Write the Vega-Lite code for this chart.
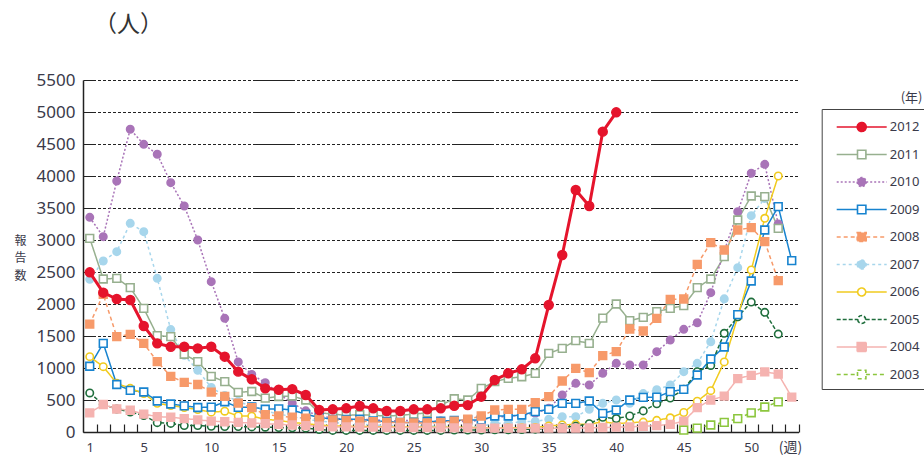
{
  "$schema": "https://vega.github.io/schema/vega-lite/v6.json",
  "width": 715.5,
  "height": 352,
  "autosize": {"type": "none"},
  "padding": {"left": 83, "top": 80, "right": 125.5, "bottom": 23},
  "background": "white",
  "title": {"text": "（人）", "anchor": "start", "frame": "group", "orient": "top", "fontSize": 23, "font": "Noto Sans CJK JP", "fontWeight": "normal", "color": "#333333", "dx": 11, "offset": 34},
  "data": {"values": [
    {"w":1,"2012":2495,"2011":3026,"2010":3354,"2009":1028,"2008":1685,"2007":2385,"2006":1177,"2005":610,"2004":300},
    {"w":2,"2012":2177,"2011":2391,"2010":3052,"2009":1385,"2008":2150,"2007":2672,"2006":1021,"2005":430,"2004":430},
    {"w":3,"2012":2078,"2011":2401,"2010":3922,"2009":742,"2008":1490,"2007":2818,"2006":760,"2005":360,"2004":360},
    {"w":4,"2012":2062,"2011":2255,"2010":4730,"2009":650,"2008":1525,"2007":3260,"2006":682,"2005":312,"2004":340},
    {"w":5,"2012":1656,"2011":1932,"2010":4495,"2009":625,"2008":1385,"2007":3130,"2006":600,"2005":258,"2004":280},
    {"w":6,"2012":1385,"2011":1505,"2010":4339,"2009":484,"2008":1099,"2007":2401,"2006":448,"2005":146,"2004":240},
    {"w":7,"2012":1333,"2011":1490,"2010":3896,"2009":438,"2008":870,"2007":1600,"2006":414,"2005":134,"2004":230},
    {"w":8,"2012":1333,"2011":1215,"2010":3531,"2009":408,"2008":775,"2007":1200,"2006":383,"2005":100,"2004":210},
    {"w":9,"2012":1307,"2011":1099,"2010":3000,"2009":383,"2008":742,"2007":965,"2006":350,"2005":100,"2004":190},
    {"w":10,"2012":1333,"2011":870,"2010":2349,"2009":388,"2008":622,"2007":695,"2006":310,"2005":90,"2004":170},
    {"w":11,"2012":1177,"2011":786,"2010":1776,"2009":472,"2008":557,"2007":570,"2006":325,"2005":85,"2004":160},
    {"w":12,"2012":943,"2011":620,"2010":1095,"2009":385,"2008":450,"2007":480,"2006":250,"2005":85,"2004":150},
    {"w":13,"2012":823,"2011":633,"2010":900,"2009":390,"2008":380,"2007":400,"2006":248,"2005":80,"2004":140},
    {"w":14,"2012":682,"2011":530,"2010":770,"2009":356,"2008":270,"2007":330,"2006":198,"2005":75,"2004":130},
    {"w":15,"2012":660,"2011":555,"2010":600,"2009":362,"2008":250,"2007":280,"2006":180,"2005":70,"2004":120},
    {"w":16,"2012":670,"2011":562,"2010":450,"2009":344,"2008":230,"2007":240,"2006":150,"2005":65,"2004":110},
    {"w":17,"2012":578,"2011":500,"2010":330,"2009":276,"2008":215,"2007":200,"2006":130,"2005":60,"2004":100},
    {"w":18,"2012":344,"2011":300,"2010":250,"2009":230,"2008":200,"2007":170,"2006":110,"2005":40,"2004":90},
    {"w":19,"2012":354,"2011":280,"2010":220,"2009":198,"2008":190,"2007":150,"2006":95,"2005":25,"2004":80},
    {"w":20,"2012":370,"2011":260,"2010":200,"2009":198,"2008":180,"2007":130,"2006":90,"2005":25,"2004":80},
    {"w":21,"2012":406,"2011":270,"2010":190,"2009":200,"2008":170,"2007":120,"2006":85,"2005":25,"2004":75},
    {"w":22,"2012":370,"2011":260,"2010":200,"2009":172,"2008":160,"2007":110,"2006":85,"2005":25,"2004":75},
    {"w":23,"2012":328,"2011":250,"2010":170,"2009":166,"2008":150,"2007":100,"2006":80,"2005":25,"2004":70},
    {"w":24,"2012":328,"2011":260,"2010":180,"2009":150,"2008":150,"2007":100,"2006":80,"2005":25,"2004":70},
    {"w":25,"2012":354,"2011":280,"2010":180,"2009":150,"2008":140,"2007":95,"2006":80,"2005":25,"2004":70},
    {"w":26,"2012":354,"2011":300,"2010":160,"2009":160,"2008":140,"2007":90,"2006":75,"2005":25,"2004":70},
    {"w":27,"2012":370,"2011":420,"2010":170,"2009":170,"2008":150,"2007":90,"2006":75,"2005":25,"2004":65},
    {"w":28,"2012":410,"2011":520,"2010":170,"2009":180,"2008":170,"2007":85,"2006":75,"2005":30,"2004":65},
    {"w":29,"2012":420,"2011":500,"2010":161,"2009":188,"2008":200,"2007":83,"2006":73,"2005":30,"2004":65},
    {"w":30,"2012":552,"2011":682,"2010":188,"2009":188,"2008":250,"2007":90,"2006":70,"2005":30,"2004":60},
    {"w":31,"2012":812,"2011":786,"2010":240,"2009":250,"2008":344,"2007":135,"2006":57,"2005":35,"2004":60},
    {"w":32,"2012":917,"2011":838,"2010":240,"2009":250,"2008":354,"2007":135,"2006":65,"2005":35,"2004":60},
    {"w":33,"2012":979,"2011":864,"2010":266,"2009":266,"2008":354,"2007":161,"2006":65,"2005":40,"2004":60},
    {"w":34,"2012":1151,"2011":917,"2010":292,"2009":318,"2008":458,"2007":165,"2006":70,"2005":45,"2004":60},
    {"w":35,"2012":1984,"2011":1229,"2010":370,"2009":354,"2008":552,"2007":198,"2006":94,"2005":55,"2004":60},
    {"w":36,"2012":2766,"2011":1307,"2010":578,"2009":448,"2008":797,"2007":240,"2006":109,"2005":70,"2004":60},
    {"w":37,"2012":3781,"2011":1427,"2010":760,"2009":448,"2008":995,"2007":240,"2006":120,"2005":90,"2004":60},
    {"w":38,"2012":3531,"2011":1385,"2010":734,"2009":484,"2008":927,"2007":354,"2006":120,"2005":130,"2004":65},
    {"w":39,"2012":4693,"2011":1780,"2010":917,"2009":292,"2008":1193,"2007":448,"2006":161,"2005":230,"2004":70},
    {"w":40,"2012":4995,"2011":2000,"2010":1073,"2009":344,"2008":1255,"2007":500,"2006":130,"2005":210,"2004":75},
    {"w":41,"2011":1740,"2010":1047,"2009":500,"2008":1609,"2007":448,"2006":146,"2005":250,"2004":80},
    {"w":42,"2011":1792,"2010":1047,"2009":542,"2008":1578,"2007":600,"2006":155,"2005":330,"2004":90},
    {"w":43,"2011":1880,"2010":1255,"2009":545,"2008":1776,"2007":660,"2006":182,"2005":440,"2004":100},
    {"w":44,"2011":1932,"2010":1437,"2009":630,"2008":2073,"2007":734,"2006":222,"2005":530,"2004":120},
    {"w":45,"2011":1974,"2010":1604,"2009":667,"2008":2078,"2007":943,"2006":305,"2005":667,"2004":170,"2003":30},
    {"w":46,"2011":2255,"2010":1708,"2009":891,"2008":2620,"2007":1073,"2006":480,"2005":943,"2004":380,"2003":60},
    {"w":47,"2011":2391,"2010":2177,"2009":1141,"2008":2958,"2007":1411,"2006":646,"2005":1040,"2004":500,"2003":110},
    {"w":48,"2011":2740,"2010":2828,"2009":1328,"2008":2844,"2007":2080,"2006":1095,"2005":1542,"2004":560,"2003":150},
    {"w":49,"2011":3313,"2010":3443,"2009":1835,"2008":3156,"2007":2568,"2006":1800,"2005":1800,"2004":835,"2003":210},
    {"w":50,"2011":3688,"2010":4042,"2009":2359,"2008":3193,"2007":3380,"2006":2531,"2005":2030,"2004":885,"2003":300},
    {"w":51,"2011":3677,"2010":4182,"2009":3156,"2008":2974,"2007":3650,"2006":3339,"2005":1870,"2004":940,"2003":390},
    {"w":52,"2011":3182,"2010":3250,"2009":3521,"2008":2365,"2006":4000,"2005":1530,"2004":905,"2003":470},
    {"w":53,"2009":2677,"2004":545}
  ]},
  "transform": [
    {"fold": ["2012","2011","2010","2009","2008","2007","2006","2005","2004","2003"], "as": ["year","v"]},
    {"filter": "isValid(datum.v)"}
  ],
  "layer": [
    {
      "encoding": {
        "x": {"field": "w", "type": "quantitative",
          "scale": {"domain": [0.5, 53.5], "nice": false, "zero": false},
          "axis": {"values": [1,2,3,4,5,6,7,8,9,10,11,12,13,14,15,16,17,18,19,20,21,22,23,24,25,26,27,28,29,30,31,32,33,34,35,36,37,38,39,40,41,42,43,44,45,46,47,48,49,50,51,52,53],
            "labelExpr": "datum.value == 1 || datum.value % 5 == 0 ? datum.value : ''",
            "tickOffset": 6.75, "labelOffset": -6.75, "tickSize": -8, "tickColor": "#222222", "tickWidth": 1.2,
            "domainColor": "#222222", "domainWidth": 1.5, "grid": false,
            "labelFont": "Noto Sans", "labelFontSize": 13, "labelColor": "#3a3a4a", "labelPadding": 17,
            "labelOverlap": false, "labelFlush": false,
            "title": "(週)", "titleFont": "Noto Sans CJK JP", "titleFontSize": 14, "titleFontWeight": "normal", "titleColor": "#3a3a4a",
            "titleX": 707, "titleY": 15, "titleAlign": "center", "titleBaseline": "middle", "titleAnchor": null}},
        "y": {"field": "v", "type": "quantitative",
          "scale": {"domain": [0, 5500], "nice": false},
          "axis": {"values": [0,500,1000,1500,2000,2500,3000,3500,4000,4500,5000,5500], "format": "d",
            "ticks": false, "labelPadding": 8, "labelFont": "Noto Sans", "labelFontSize": 17, "labelColor": "#3a3a4a",
            "domainColor": "#222222", "domainWidth": 1.5,
            "grid": true, "gridColor": "#222222", "gridWidth": 1.1, "gridDashOffset": 29.5,
            "gridDash": [42,2,3,2,3,2,3,2,3,2,3,2,3,2,3,2,3,2,3,2,3,2,3,2,3,2,3,2,3,2,3,2,3,2,3,2,3,2,3,2,3,2,3,2,3,2,3,2,3,2,3,2,3,2,3,2,3,2,3,2,3,2,3,2],
            "title": ["報","告","数"], "titleFont": "Noto Sans CJK JP", "titleFontSize": 12, "titleFontWeight": "normal", "titleColor": "#3a3a4a",
            "titleAngle": 0, "titleX": -63, "titleY": 160, "titleAlign": "center", "titleBaseline": "middle", "titleLineHeight": 17.5}}
      },
      "layer": [
        {
          "transform": [{"filter": "datum.year != '2012'"}],
          "mark": {"type": "line", "strokeWidth": 1.5},
          "encoding": {
            "color": {"field": "year", "type": "nominal",
              "scale": {"domain": ["2012","2011","2010","2009","2008","2007","2006","2005","2004","2003"],
                        "range": ["#e5142c","#97b08f","#a974b8","#1783cf","#f79a6a","#a7d6ec","#f1cb1e","#1f6e3c","#f5b3b0","#8cc63e"]}},
            "strokeDash": {"field": "year", "type": "nominal",
              "scale": {"domain": ["2012","2011","2010","2009","2008","2007","2006","2005","2004","2003"],
                        "range": [[1,0],[1,0],[2,2],[1,0],[4,3],[3,3],[1,0],[4,2],[1,0],[4,3]]}}
          }
        },
        {
          "transform": [{"filter": "datum.year == '2010' || datum.year == '2007' || datum.year == '2006' || datum.year == '2005'"}],
          "mark": {"type": "point", "shape": "circle", "filled": false, "strokeWidth": 1.6, "size": 55, "opacity": 1},
          "encoding": {
            "color": {"field": "year", "type": "nominal"},
            "fill": {"field": "year", "type": "nominal",
              "scale": {"domain": ["2012","2011","2010","2009","2008","2007","2006","2005","2004","2003"],
                        "range": ["#e5142c","white","#a974b8","white","#f79a6a","#a7d6ec","white","white","#f5b3b0","white"]}}
          }
        },
        {
          "transform": [{"filter": "datum.year == '2011' || datum.year == '2009' || datum.year == '2008' || datum.year == '2004' || datum.year == '2003'"}],
          "mark": {"type": "point", "shape": "square", "filled": false, "strokeWidth": 1.6, "size": 60, "opacity": 1},
          "encoding": {
            "color": {"field": "year", "type": "nominal"},
            "fill": {"field": "year", "type": "nominal"}
          }
        },
        {
          "transform": [{"filter": "datum.year == '2012'"}],
          "mark": {"type": "line", "strokeWidth": 3},
          "encoding": {
            "color": {"field": "year", "type": "nominal"}
          }
        },
        {
          "transform": [{"filter": "datum.year == '2012'"}],
          "mark": {"type": "point", "shape": "circle", "filled": false, "strokeWidth": 1.5, "size": 80, "opacity": 1},
          "encoding": {
            "color": {"field": "year", "type": "nominal"},
            "fill": {"field": "year", "type": "nominal"}
          }
        }
      ]
    },
    {
      "mark": {"type": "point", "opacity": 0},
      "encoding": {
        "x": {"field": "w", "type": "quantitative", "scale": {"domain": [0, 1]},
          "axis": {"orient": "top", "labels": false, "ticks": false, "domain": false, "grid": false,
            "title": "(年)", "titleFont": "Noto Sans CJK JP", "titleFontSize": 13, "titleFontWeight": "normal", "titleColor": "#3a3a4a",
            "titleX": 839, "titleY": 17, "titleAlign": "right", "titleBaseline": "middle", "titleAngle": 0, "titleAnchor": null}},
        "shape": {"field": "year", "type": "nominal",
          "scale": {"domain": ["2012","2011","2010","2009","2008","2007","2006","2005","2004","2003"],
            "range": [
              "M-2.5,0H-0.45M0.45,0H2.5M-0.45,0A0.45,0.45,0,1,0,0.45,0A0.45,0.45,0,1,0,-0.45,0Z",
              "M-2.5,0H-0.42M0.42,0H2.5M-0.42,-0.42H0.42V0.42H-0.42Z",
              "M-2.5,0H-0.45M0.45,0H2.5M-0.45,0A0.45,0.45,0,1,0,0.45,0A0.45,0.45,0,1,0,-0.45,0Z",
              "M-2.5,0H-0.42M0.42,0H2.5M-0.42,-0.42H0.42V0.42H-0.42Z",
              "M-2.5,0H-0.45M0.45,0H2.5M-0.45,-0.45H0.45V0.45H-0.45Z",
              "M-2.5,0H-0.45M0.45,0H2.5M-0.45,0A0.45,0.45,0,1,0,0.45,0A0.45,0.45,0,1,0,-0.45,0Z",
              "M-2.5,0H-0.4M0.4,0H2.5M-0.4,0A0.4,0.4,0,1,0,0.4,0A0.4,0.4,0,1,0,-0.4,0Z",
              "M-2.5,0H-0.4M0.4,0H2.5M-0.4,0A0.4,0.4,0,1,0,0.4,0A0.4,0.4,0,1,0,-0.4,0Z",
              "M-2.5,0H-0.45M0.45,0H2.5M-0.45,-0.45H0.45V0.45H-0.45Z",
              "M-2.5,0H-0.42M0.42,0H2.5M-0.42,-0.42H0.42V0.42H-0.42Z"
            ]},
          "legend": {"orient": "none", "legendX": 738.7, "legendY": 29, "title": null,
            "symbolSize": 400, "rowPadding": 8.5, "padding": 7, "symbolOffset": 22, "labelOffset": 17,
            "symbolStrokeWidth": 1.6,
            "labelFont": "Noto Sans", "labelFontSize": 13, "labelColor": "#3a3a4a", "strokeColor": "#444444"}}
      }
    }
  ],
  "resolve": {"scale": {"x": "independent"}},
  "config": {"view": {"stroke": null}, "font": "Noto Sans"}
}
